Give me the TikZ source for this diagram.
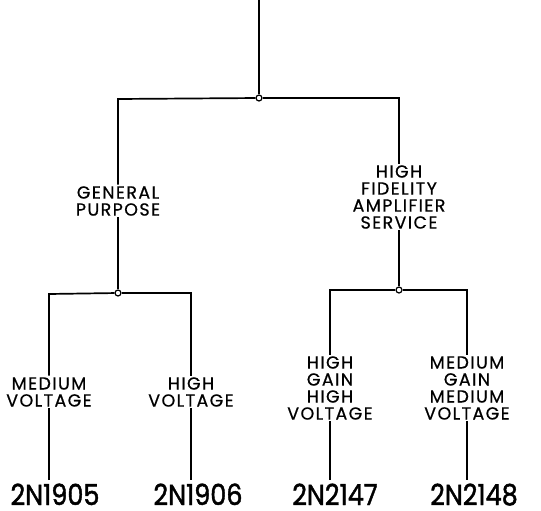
\documentclass[tikz,border=0pt]{standalone}
\usepackage{fontspec}
\setmainfont{Poppins}
\newfontfamily\lblfont{Poppins}[FakeBold=0.6,LetterSpace=8]
\newfontfamily\partfont{Poppins}[FakeBold=1.6]
\begin{document}
\begin{tikzpicture}[x=1pt,y=-1pt,
  wire/.style={line width=1.7pt},
  lbl/.style={align=center,inner sep=1.5pt,font=\lblfont\fontsize{17.5}{17}\selectfont},
  part/.style={inner sep=0pt,anchor=base,font=\partfont\fontsize{29}{30}\selectfont},
  junc/.style={circle,draw,line width=1.2pt,fill=white,inner sep=0pt,minimum size=6pt}]
\useasboundingbox (0,0) rectangle (541,511);
\coordinate (t) at (259,0);
\node[junc] (j0) at (259,98) {};
\coordinate (c0l) at (118,99);
\coordinate (c0r) at (399,98);
\node[lbl] (gp) at (118,201) {GENERAL\\PURPOSE};
\node[lbl] (hf) at (399,197) {HIGH\\FIDELITY\\AMPLIFIER\\SERVICE};
\node[junc] (j1) at (118,293) {};
\node[junc] (j2) at (399,290) {};
\coordinate (c1l) at (49,294);
\coordinate (c1r) at (191,293);
\coordinate (c2l) at (330,290);
\coordinate (c2r) at (467,290);
\node[lbl] (mv) at (49,392) {MEDIUM\\VOLTAGE};
\node[lbl] (hv) at (191,392) {HIGH\\VOLTAGE};
\node[lbl] (hghv) at (330,388) {HIGH\\GAIN\\HIGH\\VOLTAGE};
\node[lbl] (mgmv) at (467,388) {MEDIUM\\GAIN\\MEDIUM\\VOLTAGE};
\node[part] (p1) at (55,505) {\scalebox{0.88}[1]{2N1905}};
\node[part] (p2) at (198,505) {\scalebox{0.88}[1]{2N1906}};
\node[part] (p3) at (335,505) {\scalebox{0.88}[1]{2N2147}};
\node[part] (p4) at (474,505) {\scalebox{0.88}[1]{2N2148}};
\draw[wire] (t) -- (j0);
\draw[wire] (j0) -- (c0l) -- (gp);
\draw[wire] (j0) -- (c0r) -- (hf);
\draw[wire] (gp) -- (j1);
\draw[wire] (hf) -- (j2);
\draw[wire] (j1) -- (c1l) -- (mv);
\draw[wire] (j1) -- (c1r) -- (hv);
\draw[wire] (j2) -- (c2l) -- (hghv);
\draw[wire] (j2) -- (c2r) -- (mgmv);
\draw[wire] (mv) -- ([yshift=3pt]mv |- p1.north);
\draw[wire] (hv) -- ([yshift=3pt]hv |- p2.north);
\draw[wire] (hghv) -- ([yshift=3pt]hghv |- p3.north);
\draw[wire] (mgmv) -- ([yshift=3pt]mgmv |- p4.north);
\end{tikzpicture}
\end{document}
